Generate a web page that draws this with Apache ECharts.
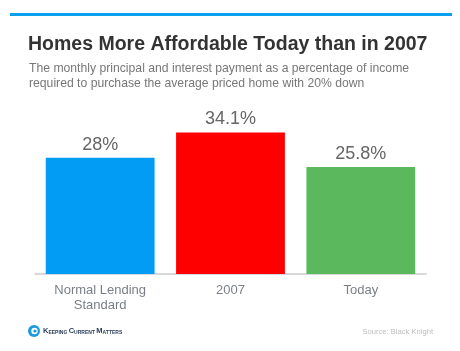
<!DOCTYPE html>
<html>
<head>
<meta charset="utf-8">
<script src="https://cdn.jsdelivr.net/npm/echarts@6/dist/echarts.min.js"></script>
<style>
  html, body { margin: 0; padding: 0; background: #fff; }
  #main { width: 460px; height: 351px; }
</style>
</head>
<body>
<div id="main"></div>
<script>
// 数据
var categories = ['Normal Lending\nStandard', '2007', 'Today'];
var values = [28, 34.1, 25.8];
var valueLabels = ['28%', '34.1%', '25.8%'];
var barColors = ['#039cf4', '#ff0000', '#5cb85c'];

var chart = echarts.init(document.getElementById('main'));

var option = {
    backgroundColor: '#ffffff',
    animation: false,
    title: [
        {
            text: 'Homes More Affordable Today than in 2007',
            left: 28,
            top: 35,
            padding: 0,
            textStyle: {
                fontFamily: 'Liberation Sans',
                fontSize: 19.5,
                fontWeight: 'bold',
                color: '#333333'
            }
        },
        {
            text: 'The monthly principal and interest payment as a percentage of income\nrequired to purchase the average priced home with 20% down',
            left: 29,
            top: 61,
            padding: 0,
            textStyle: {
                fontFamily: 'Liberation Sans',
                fontSize: 12.2,
                fontWeight: 'normal',
                lineHeight: 15,
                color: '#777777'
            }
        }
    ],
    grid: {
        left: 35,
        right: 34,
        top: 108,
        bottom: 77
    },
    xAxis: {
        type: 'category',
        data: categories,
        axisLine: { lineStyle: { color: '#cccccc', width: 1.5 } },
        axisTick: { show: false },
        axisLabel: {
            margin: 9,
            fontFamily: 'Liberation Sans',
            fontSize: 13,
            lineHeight: 15,
            color: '#7a7f86'
        }
    },
    yAxis: {
        type: 'value',
        min: 0,
        max: 40,
        show: false,
        splitLine: { show: false }
    },
    series: [
        {
            type: 'bar',
            barWidth: '83.5%',
            data: values.map(function (v, i) {
                return { value: v, itemStyle: { color: barColors[i] } };
            }),
            label: {
                show: true,
                position: 'top',
                distance: 4,
                fontFamily: 'Liberation Sans',
                fontSize: 18,
                color: '#666666',
                formatter: function (p) { return valueLabels[p.dataIndex]; }
            }
        }
    ],
    graphic: [
        // 顶部蓝线
        { type: 'rect', shape: { x: 10, y: 13, width: 442, height: 3 }, style: { fill: '#0aa0ee' } },
        // logo
        { type: 'circle', shape: { cx: 34, cy: 331, r: 6 }, style: { fill: '#1a9be0' } },
        { type: 'circle', shape: { cx: 34.5, cy: 331, r: 3.2 }, style: { fill: '#ffffff' } },
        { type: 'circle', shape: { cx: 35, cy: 331, r: 1.6 }, style: { fill: '#1a9be0' } },
        {
            type: 'text', left: 43, top: 327,
            style: {
                text: '{b|K}{s|EEPING }{b|C}{s|URRENT }{b|M}{s|ATTERS}',
                rich: {
                    b: { font: 'bold 7.5px "Liberation Sans"', fill: '#2b3e5c', verticalAlign: 'bottom' },
                    s: { font: 'bold 5px "Liberation Sans"', fill: '#2b3e5c', verticalAlign: 'bottom' }
                }
            }
        },
        {
            type: 'text', right: 27, top: 328,
            style: {
                text: 'Source: Black Knight',
                font: '7.6px "Liberation Sans"',
                fill: '#bdbdbd'
            }
        }
    ]
};

chart.setOption(option);
</script>
</body>
</html>
